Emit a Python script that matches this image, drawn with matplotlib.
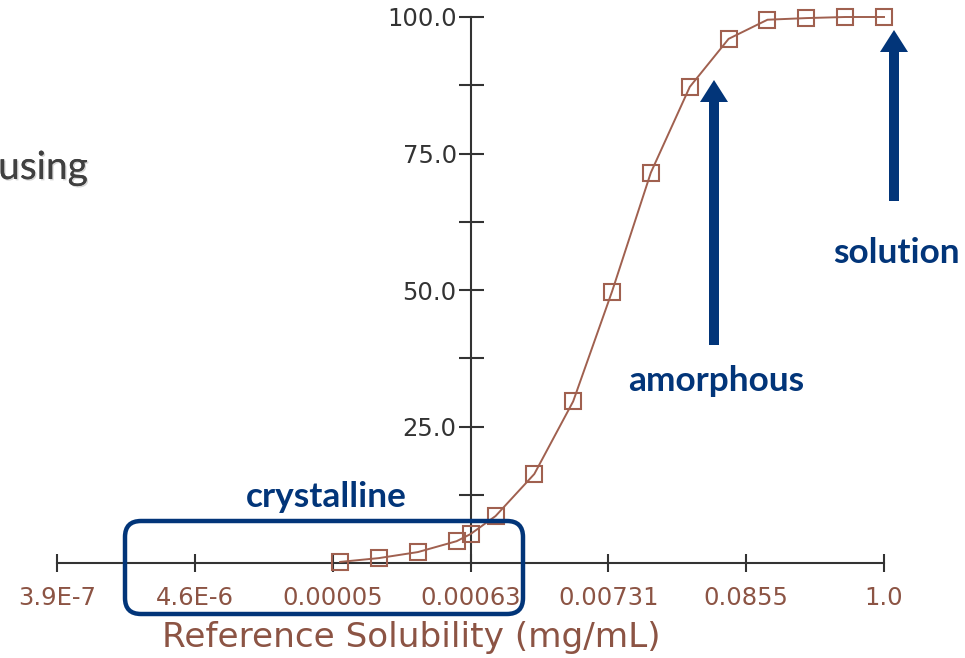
import matplotlib
matplotlib.use("Agg")
import matplotlib.pyplot as plt
import matplotlib.patheffects as pe
from matplotlib.patches import FancyArrow, FancyBboxPatch

# solubility (mg/mL) vs % of sample
solubility = [6.1e-5, 1.22e-4, 2.44e-4, 4.88e-4, 6.25e-4, 9.77e-4, 1.95e-3,
              3.9e-3, 7.8e-3, 0.0156, 0.03125, 0.0625, 0.125, 0.25, 0.5, 1.0]
percent = [0.2, 0.9, 2.0, 4.0, 5.3, 8.6, 16.3, 29.6, 49.7, 71.5, 87.2, 96.0,
           99.5, 99.8, 100.0, 100.0]

xtick_vals = [3.9e-7, 4.56e-6, 5.34e-5, 6.25e-4, 7.31e-3, 0.0855, 1.0]
xtick_labels = ['3.9E-7', '4.6E-6', '0.00005', '0.00063', '0.00731', '0.0855', '1.0']
ytick_vals = [25, 50, 75, 100]
ytick_labels = ['25.0', '50.0', '75.0', '100.0']
yminor_vals = [12.5, 37.5, 62.5, 87.5]

brown = '#a0604f'
brown_txt = '#8c5444'
navy = '#023579'
axcol = '#333333'

W, H = 965, 658
fig = plt.figure(figsize=(W / 100, H / 100), dpi=100)
ax = fig.add_axes([57 / W, (H - 563) / H, 827 / W, 546 / H])
ax.set_xscale('log')
ax.set_xlim(3.9e-7, 1.0)
ax.set_ylim(0, 100)

ax.plot(solubility, percent, color=brown, lw=1.4, marker='s', ms=12,
        mfc='none', mec=brown, mew=1.5, clip_on=False, zorder=3)

for s in ['top', 'right']:
    ax.spines[s].set_visible(False)
ax.spines['left'].set_position(('data', 6.25e-4))
for s in ['left', 'bottom']:
    ax.spines[s].set_color(axcol)
    ax.spines[s].set_linewidth(1.5)
ax.patch.set_visible(False)

ax.set_xticks(xtick_vals)
ax.set_xticklabels(xtick_labels)
ax.xaxis.set_minor_locator(matplotlib.ticker.NullLocator())
ax.set_yticks(ytick_vals)
ax.set_yticklabels(ytick_labels)
ax.set_yticks(yminor_vals, minor=True)

ax.tick_params(axis='x', which='both', direction='inout', length=13, width=1.5,
               color=axcol, labelcolor=brown_txt, labelsize=17.5, pad=10)
ax.tick_params(axis='y', which='both', direction='inout', length=18, width=1.5,
               color=axcol, labelcolor=axcol, labelsize=17.5, pad=1)
for lab in ax.get_xticklabels() + ax.get_yticklabels():
    lab.set_family('DejaVu Sans')

ax.set_xlabel('Reference Solubility (mg/mL)', color=brown_txt, fontsize=24.7,
              family='DejaVu Sans')
ax.xaxis.set_label_coords((411 - 57) / 827, -(638 - 563) / 546)
ax.xaxis.label.set_va('center')

shadow = [pe.withSimplePatchShadow(offset=(1, -1), shadow_rgbFace='#999999', alpha=0.4), pe.Normal()]

def px(x, y):
    return x / W, (H - y) / H

fig.text(*px(88, 168), 'using', ha='right', va='center', fontsize=28,
         family='Lato', color='#404040', path_effects=shadow)
fig.text(*px(326, 497), 'crystalline', ha='center', va='center', fontsize=25.4,
         family='Lato', weight='bold', color=navy)
fig.text(*px(716, 381), 'amorphous', ha='center', va='center', fontsize=25.4,
         family='Lato', weight='bold', color=navy)
fig.text(*px(896, 253), 'solution', ha='center', va='center', fontsize=25.4,
         family='Lato', weight='bold', color=navy)

box = FancyBboxPatch((1.25 + 0.16, (H - 614) / 100 + 0.16), 3.98 - 0.32, 0.93 - 0.32,
                     boxstyle='round,pad=0.16', transform=fig.dpi_scale_trans,
                     fill=False, ec=navy, lw=3.2, zorder=5)
fig.add_artist(box)

for x0, y0, y1 in [(714, 345, 80), (894, 201, 30)]:
    arr = FancyArrow(x0 / 100, (H - y0) / 100, 0, (y0 - y1) / 100, width=0.1,
                     head_width=0.28, head_length=0.22, length_includes_head=True,
                     transform=fig.dpi_scale_trans, color=navy, lw=0)
    fig.add_artist(arr)

fig.savefig('out.png', dpi=100)
